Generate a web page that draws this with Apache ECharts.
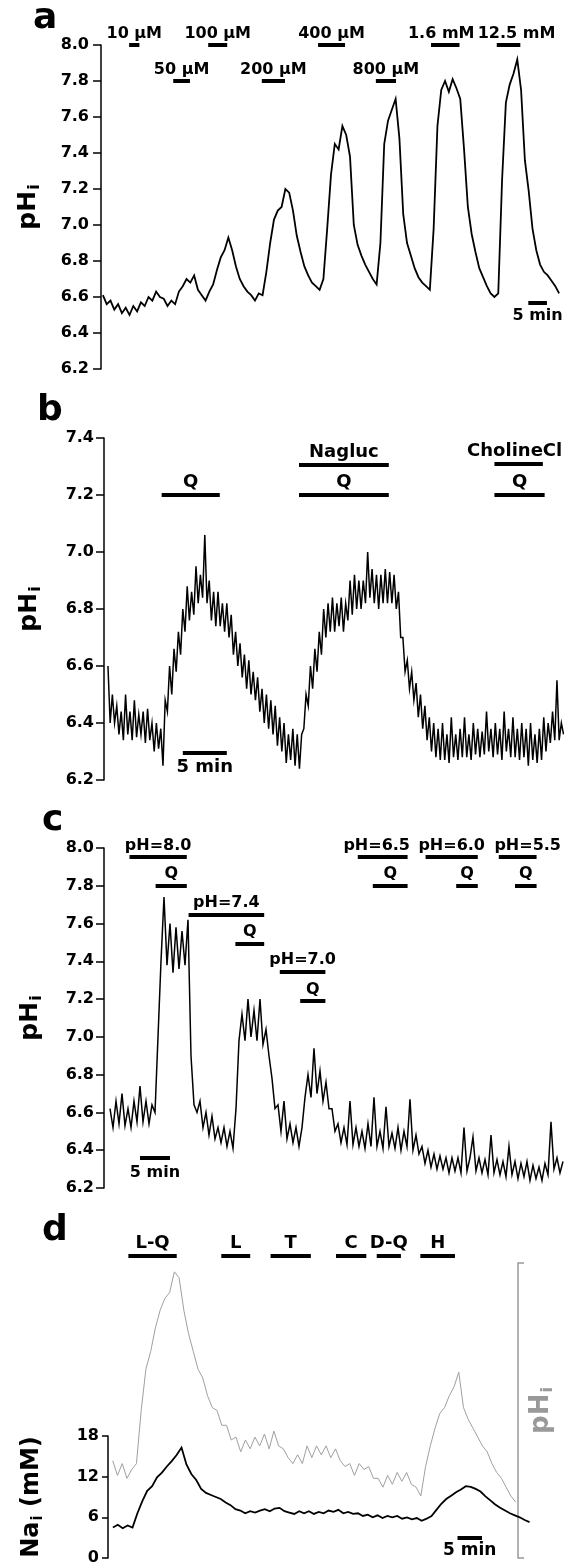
<!DOCTYPE html>
<html><head><meta charset="utf-8">
<script src="https://cdn.jsdelivr.net/npm/echarts@6/dist/echarts.min.js"></script>
<style>html,body{margin:0;padding:0;background:#fff}#chart{width:564px;height:1567px}</style>
</head><body><div id="chart"></div>
<script>
const FONT = 'DejaVu Sans';

// ---------- Panel a : pHi vs time (1 min samples) ----------
const aStart = 0, aStep = 1;
const aPH = [6.61,6.56,6.58,6.53,6.56,6.51,6.54,6.50,6.55,6.52,6.57,6.55,6.60,6.58,6.63,6.60,6.59,6.55,6.58,6.56,
  6.63,6.66,6.70,6.68,6.72,6.64,6.61,6.58,6.63,6.67,6.75,6.82,6.86,6.93,6.86,6.77,6.70,6.66,6.63,6.61,
  6.58,6.62,6.61,6.74,6.90,7.03,7.08,7.10,7.20,7.18,7.08,6.94,6.85,6.77,6.72,6.68,6.66,6.64,6.70,6.98,
  7.28,7.45,7.42,7.55,7.50,7.38,7.00,6.89,6.83,6.78,6.74,6.70,6.67,6.90,7.45,7.58,7.64,7.70,7.48,7.06,
  6.90,6.83,6.76,6.71,6.68,6.66,6.64,6.98,7.55,7.75,7.80,7.74,7.81,7.76,7.70,7.42,7.10,6.95,6.85,6.76,
  6.71,6.66,6.62,6.60,6.62,7.25,7.68,7.78,7.84,7.92,7.75,7.36,7.19,6.98,6.86,6.78,6.74,6.72,6.69,6.66,6.62];
const aBars = [['10 µM',6.9,9.6,8.0],['50 µM',18.5,22.9,7.8],['100 µM',27.7,32.7,8.0],['200 µM',41.8,47.9,7.8],
  ['400 µM',56.6,63.7,8.0],['800 µM',71.8,77.1,7.8],['1.6 mM',86.3,93.8,8.0],['12.5 mM',103.6,109.8,8.0]];
const aScale = [['5 min',111.9,116.8,6.57]];

// ---------- Panel b (0.25 min samples) ----------
const bStart = 0, bStep = 0.25;
const bPH = [
  6.60,6.40,6.50,6.40,6.46,6.36,6.44,6.34,6.50,6.36,6.44,6.34,6.48,6.35,6.43,6.36,6.44,6.33,6.45,6.34,
  6.40,6.30,6.40,6.31,6.38,6.25,6.48,6.44,6.60,6.50,6.66,6.58,6.72,6.64,6.80,6.72,6.88,6.76,6.86,6.78,
  6.95,6.82,6.92,6.84,7.06,6.82,6.90,6.76,6.86,6.74,6.86,6.74,6.82,6.72,6.82,6.70,6.78,6.64,6.72,6.60,
  6.68,6.56,6.64,6.52,6.62,6.50,6.58,6.48,6.56,6.44,6.52,6.40,6.50,6.38,6.48,6.36,6.46,6.32,6.42,6.30,
  6.40,6.26,6.36,6.27,6.38,6.25,6.36,6.24,6.36,6.38,6.50,6.46,6.60,6.52,6.66,6.58,6.72,6.64,6.80,6.70,
  6.82,6.72,6.84,6.72,6.82,6.74,6.84,6.72,6.82,6.76,6.90,6.78,6.92,6.80,6.90,6.80,6.90,6.82,7.00,6.84,
  6.94,6.82,6.92,6.80,6.92,6.82,6.94,6.82,6.93,6.82,6.92,6.80,6.86,6.70,6.70,6.58,6.62,6.52,6.58,6.48,
  6.54,6.42,6.50,6.38,6.46,6.34,6.42,6.30,6.40,6.28,6.38,6.27,6.40,6.27,6.36,6.26,6.42,6.28,6.36,6.27,
  6.38,6.28,6.42,6.28,6.36,6.27,6.40,6.29,6.38,6.28,6.37,6.29,6.44,6.30,6.38,6.28,6.40,6.29,6.38,6.27,
  6.44,6.30,6.38,6.28,6.42,6.28,6.38,6.27,6.40,6.28,6.38,6.25,6.40,6.27,6.36,6.26,6.38,6.27,6.42,6.30,
  6.40,6.33,6.44,6.34,6.55,6.34,6.40,6.36];
const bBars = [['Q',6.1,12.7,7.2],['Nagluc',21.7,31.9,7.305],['Q',21.7,31.9,7.2],['CholineCl',43.9,49.4,7.31],['Q',43.9,49.6,7.2]];
const bScale = [['5 min',8.5,13.5,6.295]];

// ---------- Panel c (0.5 min samples) ----------
const cStart = 0, cStep = 0.5;
const cPH = [
  6.62,6.52,6.66,6.54,6.70,6.53,6.62,6.52,6.66,6.55,6.74,6.55,6.66,6.54,6.64,6.60,7.00,7.40,7.74,7.38,
  7.60,7.34,7.58,7.36,7.56,7.38,7.62,6.90,6.64,6.60,6.66,6.52,6.60,6.48,6.58,6.46,6.52,6.44,6.52,6.42,
  6.50,6.41,6.62,6.98,7.12,6.98,7.20,7.00,7.14,6.98,7.20,6.96,7.04,6.90,6.78,6.62,6.64,6.50,6.66,6.46,
  6.54,6.44,6.52,6.42,6.52,6.68,6.80,6.68,6.94,6.70,6.82,6.66,6.76,6.62,6.62,6.50,6.54,6.44,6.52,6.43,
  6.66,6.43,6.52,6.42,6.50,6.41,6.54,6.42,6.68,6.42,6.50,6.41,6.63,6.42,6.49,6.41,6.52,6.40,6.50,6.42,
  6.67,6.40,6.48,6.38,6.42,6.33,6.40,6.31,6.38,6.30,6.37,6.30,6.36,6.28,6.36,6.29,6.36,6.28,6.52,6.29,
  6.36,6.47,6.29,6.36,6.28,6.35,6.27,6.48,6.28,6.35,6.27,6.34,6.26,6.42,6.27,6.34,6.25,6.33,6.26,6.34,
  6.24,6.32,6.25,6.31,6.24,6.33,6.27,6.55,6.30,6.36,6.28,6.34];
const cBars = [['pH=8.0',3.25,12.8,7.953],['Q',7.6,12.8,7.8],['pH=7.4',13.1,25.7,7.647],['Q',20.9,25.7,7.493],
  ['pH=7.0',28.3,35.9,7.345],['Q',31.7,35.9,7.19],['pH=6.5',41.3,49.6,7.953],['Q',43.8,49.6,7.8],
  ['pH=6.0',52.6,61.3,7.953],['Q',57.7,61.3,7.8],['pH=5.5',64.8,71.1,7.953],['Q',67.5,71.1,7.8]];
const cScale = [['5 min',5,10,6.362]];

// ---------- Panel d (1 min samples) ----------
const dStart = 0, dStep = 1;
const dNa = [4.5,4.9,4.4,4.8,4.5,6.6,8.4,9.9,10.6,11.9,12.6,13.5,14.3,15.2,16.3,13.8,12.4,11.5,10.2,9.6,
  9.3,9.0,8.7,8.2,7.8,7.2,7.0,6.6,6.9,6.7,7.0,7.2,6.9,7.3,7.4,6.9,6.7,6.5,6.9,6.6,
  6.9,6.5,6.8,6.6,7.0,6.8,7.1,6.6,6.8,6.5,6.6,6.2,6.4,6.0,6.3,5.9,6.2,6.0,6.2,5.8,
  6.0,5.7,5.9,5.5,5.8,6.2,7.1,8.0,8.7,9.2,9.7,10.1,10.6,10.5,10.2,9.8,9.1,8.5,7.9,7.4,
  7.0,6.6,6.3,6.0,5.6,5.3];
// pHi trace in panel d (relative units on the unlabelled bracket axis)
const dPH = [0.33,0.28,0.32,0.27,0.30,0.32,0.50,0.64,0.70,0.78,0.84,0.88,0.90,0.97,0.95,0.84,0.76,0.70,0.64,0.61,
  0.55,0.51,0.50,0.45,0.45,0.40,0.41,0.36,0.40,0.37,0.41,0.38,0.42,0.37,0.43,0.38,0.37,0.34,0.32,0.35,
  0.32,0.38,0.34,0.38,0.35,0.38,0.34,0.37,0.33,0.31,0.32,0.28,0.32,0.30,0.31,0.27,0.27,0.24,0.28,0.25,
  0.29,0.26,0.29,0.25,0.24,0.21,0.31,0.38,0.44,0.49,0.51,0.55,0.58,0.63,0.51,0.47,0.44,0.41,0.38,0.36,
  0.32,0.29,0.27,0.24,0.21,0.19];
const dBars = [['L-Q',3.3,13.5,1.024],['L',22.9,29.0,1.024],['T',33.3,41.8,1.024],['C',47.1,53.5,1.024],['D-Q',55.7,60.8,1.024],['H',64.9,72.2,1.024]];
const dScale = [['5 min',70.3,75.3,2.95]];

// label nudges (style only, px)
const labelNudge = {'1.6 mM':[-4,0], '12.5 mM':[8,0], 'CholineCl':[-4,0], 'pH=6.5':[-6,0], 'pH=5.5':[10,0]};

// ---------- build ----------
function series(idx, yIdx, start, step, vals, color, width) {
  return {type:'line', xAxisIndex:idx, yAxisIndex:yIdx, symbol:'none', silent:true,
    data: vals.map((v,i)=>[start+i*step, v]), lineStyle:{color:color, width:width, join:'miter'}};
}
function bars(idx, yIdx, list, size, pos, dist) {
  return [
    {type:'lines', coordinateSystem:'cartesian2d', xAxisIndex:idx, yAxisIndex:yIdx, clip:false, silent:true,
      data: list.map(b=>({coords:[[b[1],b[3]],[b[2],b[3]]]})), lineStyle:{color:'#000', width:4, opacity:1}},
    {type:'scatter', xAxisIndex:idx, yAxisIndex:yIdx, clip:false, silent:true, symbolSize:1,
      itemStyle:{color:'rgba(0,0,0,0)', opacity:1},
      data: list.map(b=>({value:[(b[1]+b[2])/2, b[3]], label:{formatter:b[0], offset: labelNudge[b[0]] || [0,0]}})),
      label:{show:true, position:pos, distance:dist, color:'#000', opacity:1, fontFamily:FONT, fontWeight:'bold', fontSize:size}}
  ];
}
const nameRich = (c, fs) => ({fontFamily:FONT, rich:{
  m:{fontFamily:FONT, fontWeight:'bold', fontSize:fs, color:c, lineHeight:fs+4},
  s:{fontFamily:FONT, fontWeight:'bold', fontSize:Math.round(fs*0.62), color:c, verticalAlign:'bottom', lineHeight:fs*0.62, padding:[0,0,0,1]}}});

function yAx(idx, min, max, interval, margin, tickLen, name, nameGap, dec) {
  return {type:'value', gridIndex:idx, min:min, max:max, interval:interval,
    axisLine:{show:true, onZero:false, lineStyle:{color:'#000', width:1.5}},
    axisTick:{show:true, length:tickLen, lineStyle:{color:'#000', width:1.5}},
    splitLine:{show:false},
    axisLabel:{margin:margin, color:'#000', fontFamily:FONT, fontWeight:'bold', fontSize:16,
      formatter: v => v.toFixed(dec)},
    name:name, nameLocation:'middle', nameGap:nameGap, nameRotate:90,
    nameTextStyle: nameRich('#000', 25)};
}
const xAx = (idx, min, max) => ({type:'value', gridIndex:idx, min:min, max:max, show:false,
  axisLine:{onZero:false}, splitLine:{show:false}});

const option = {
  animation:false,
  backgroundColor:'#fff',
  grid:[
    {left:101, right:3, top:45, bottom:1567-369},
    {left:104, right:0, top:438, bottom:1567-780},
    {left:104, right:0, top:848, bottom:1567-1188},
    {left:108, right:32, top:1436, bottom:9},
    {left:108, right:32, top:1263, bottom:9}
  ],
  xAxis:[xAx(0,-0.5,120.5), xAx(1,-0.45,51.8), xAx(2,-1,75.67), xAx(3,-1,85.5), xAx(4,-1,85.5)],
  yAxis:[
    yAx(0,6.2,8.0,0.2,12,8,'{m|pH}{s|i}',58,1),
    yAx(1,6.2,7.4,0.2,10,8,'{m|pH}{s|i}',60,1),
    yAx(2,6.2,8.0,0.2,10,8,'{m|pH}{s|i}',59,1),
    Object.assign(yAx(3,0,18,6,9,6,'{m|Na}{s|i}{m| (mM)}',62,0), {nameTextStyle: nameRich('#000', 24)}),
    {type:'value', gridIndex:4, position:'right', min:0, max:1, interval:1,
      axisLine:{show:true, onZero:false, lineStyle:{color:'#999', width:1.5}},
      axisTick:{show:true, length:6, lineStyle:{color:'#999', width:1.5}},
      axisLabel:{show:false}, splitLine:{show:false},
      name:'{m|pH}{s|i}', nameLocation:'middle', nameGap:8, nameRotate:90,
      nameTextStyle: nameRich('#999', 26)}
  ],
  graphic:[
    {type:'text', left:33, top:1, style:{text:'a', font:'bold 36px "DejaVu Sans"', fill:'#000'}},
    {type:'text', left:37, top:393, style:{text:'b', font:'bold 36px "DejaVu Sans"', fill:'#000'}},
    {type:'text', left:42, top:803, style:{text:'c', font:'bold 36px "DejaVu Sans"', fill:'#000'}},
    {type:'text', left:42, top:1213, style:{text:'d', font:'bold 36px "DejaVu Sans"', fill:'#000'}}
  ],
  series:[
    series(0,0,aStart,aStep,aPH,'#000',1.8),
    series(1,1,bStart,bStep,bPH,'#000',1.5),
    series(2,2,cStart,cStep,cPH,'#000',1.5),
    series(4,4,dStart,dStep,dPH,'#a0a0a0',1),
    series(3,3,dStart,dStep,dNa,'#000',1.8),
    ...bars(0,0,aBars,16,'top',3),
    ...bars(0,0,aScale,16,'bottom',5),
    ...bars(1,1,bBars,18,'top',3),
    ...bars(1,1,bScale,18,'bottom',5),
    ...bars(2,2,cBars,16,'top',3),
    ...bars(2,2,cScale,16,'bottom',7),
    ...bars(4,4,dBars,18,'top',3),
    ...bars(3,3,dScale,17,'bottom',4)
  ]
};
const chart = echarts.init(document.getElementById('chart'), null, {renderer:'canvas'});
chart.setOption(option);
</script></body></html>
